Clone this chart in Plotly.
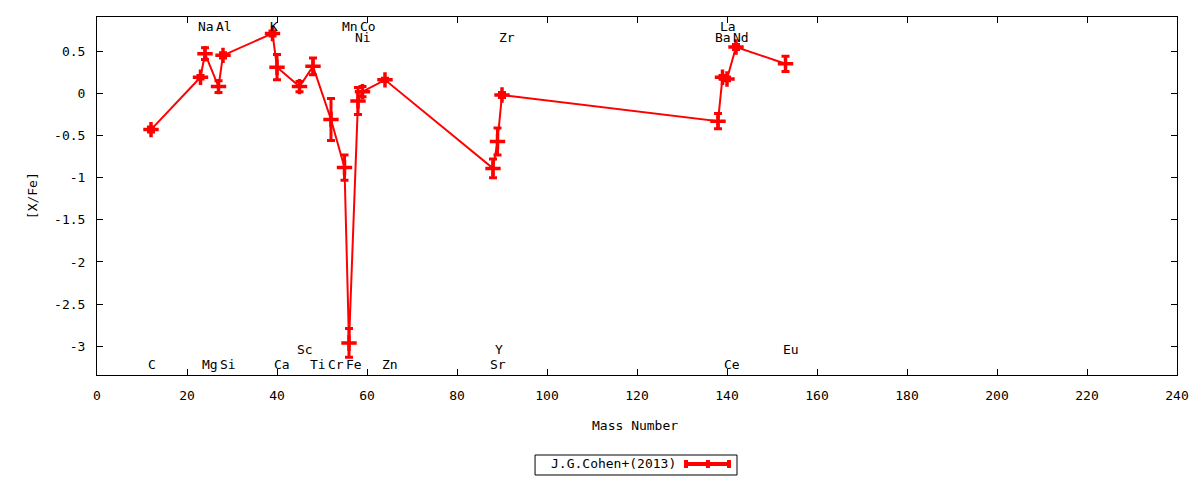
import plotly.graph_objects as go

# abundance pattern, J.G.Cohen+(2013)
elements = ["C", "Na", "Mg", "Al", "Si", "K", "Ca", "Sc", "Ti", "Cr", "Mn", "Fe",
            "Ni", "Co", "Zn", "Sr", "Y", "Zr", "Ba", "La", "Ce", "Nd", "Eu"]
mass_number = [12, 23, 24, 27, 28, 39, 40, 45, 48, 52, 55, 56,
               58, 59, 64, 88, 89, 90, 138, 139, 140, 142, 153]
x_fe = [-0.43, 0.19, 0.47, 0.08, 0.45, 0.71, 0.31, 0.08, 0.32, -0.31, -0.88, -2.96,
        -0.09, 0.02, 0.16, -0.89, -0.57, -0.02, -0.33, 0.19, 0.17, 0.55, 0.35]
x_fe_err = [0.03, 0.02, 0.07, 0.07, 0.03, 0.03, 0.15, 0.06, 0.10, 0.25, 0.15, 0.17,
            0.16, 0.06, 0.02, 0.11, 0.16, 0.03, 0.09, 0.02, 0.02, 0.03, 0.09]

# element name labels (rows above / below the data)
label_y = [-3.21, 0.79, -3.21, 0.79, -3.21, 0.79, -3.21, -3.04, -3.21, -3.21, 0.79, -3.21,
           0.66, 0.79, -3.21, -3.21, -3.04, 0.66, 0.66, 0.79, -3.21, 0.66, -3.04]

x_ticks = [0, 20, 40, 60, 80, 100, 120, 140, 160, 180, 200, 220, 240]
y_ticks = [0.5, 0, -0.5, -1, -1.5, -2, -2.5, -3]
y_ticktext = ["0.5", "0", "-0.5", "-1", "-1.5", "-2", "-2.5", "-3"]

RED = "#ff0000"
FONT = "DejaVu Sans Mono"

fig = go.Figure()

fig.add_trace(go.Scatter(
    x=mass_number, y=x_fe,
    mode="lines+markers",
    line=dict(color=RED, width=2),
    marker=dict(symbol="cross-thin", size=11, line=dict(color=RED, width=3.5), color=RED),
    error_y=dict(type="data", array=x_fe_err, symmetric=True,
                 color=RED, thickness=3, width=4),
    name="J.G.Cohen+(2013)",
    showlegend=False,
))

for name, mx, ly in zip(elements, mass_number, label_y):
    fig.add_annotation(
        x=mx, y=ly, text=name, showarrow=False,
        xanchor="left", yanchor="middle", xshift=-5,
        font=dict(family=FONT, size=13, color="black"),
    )

# axis titles
fig.add_annotation(x=0.498, y=-0.14, xref="paper", yref="paper", text="Mass Number",
                   xanchor="center", yanchor="middle", showarrow=False,
                   font=dict(family=FONT, size=13, color="black"))
fig.add_annotation(x=-0.06, y=0.5, xref="paper", yref="paper", text="[X/Fe]",
                   xanchor="center", yanchor="middle", textangle=-90, showarrow=False,
                   font=dict(family=FONT, size=13, color="black"))

# gnuplot-style key: text on the left, sample on the right
fig.add_shape(type="rect", xref="paper", yref="paper",
              x0=0.4056, x1=0.5926, y0=-0.2235, y1=-0.2793,
              line=dict(color="black", width=1))
fig.add_annotation(x=0.538, y=-0.2486, xref="paper", yref="paper",
                   text="J.G.Cohen+(2013)", showarrow=False,
                   xanchor="right", yanchor="middle",
                   font=dict(family=FONT, size=13, color="black"))
fig.add_shape(type="line", xref="paper", yref="paper",
              x0=0.5454, x1=0.5852, y0=-0.2486, y1=-0.2486,
              line=dict(color=RED, width=4))
for sx in [0.5454, 0.5657, 0.5852]:
    fig.add_shape(type="line", xref="paper", yref="paper",
                  x0=sx, x1=sx, y0=-0.2374, y1=-0.2598,
                  line=dict(color=RED, width=4))

fig.update_xaxes(
    range=[0, 240], tickvals=x_ticks,
    showline=True, linecolor="black", linewidth=1, mirror="ticks",
    ticks="inside", ticklen=6, tickcolor="black",
    showgrid=False, zeroline=False, ticklabelstandoff=8,
    tickfont=dict(family=FONT, size=13, color="black"),
)
fig.update_yaxes(
    range=[-3.34, 0.905], tickvals=y_ticks, ticktext=y_ticktext,
    showline=True, linecolor="black", linewidth=1, mirror="ticks",
    ticks="inside", ticklen=6, tickcolor="black",
    showgrid=False, zeroline=False, ticklabelstandoff=8,
    tickfont=dict(family=FONT, size=13, color="black"),
)

# the page body adds an 8px offset, so the figure is 8px smaller each way
fig.update_layout(
    width=1192, height=472,
    margin=dict(l=89, r=23, t=9, b=105, autoexpand=False),
    plot_bgcolor="white", paper_bgcolor="white",
    showlegend=False,
)

fig.write_html("out.html")
